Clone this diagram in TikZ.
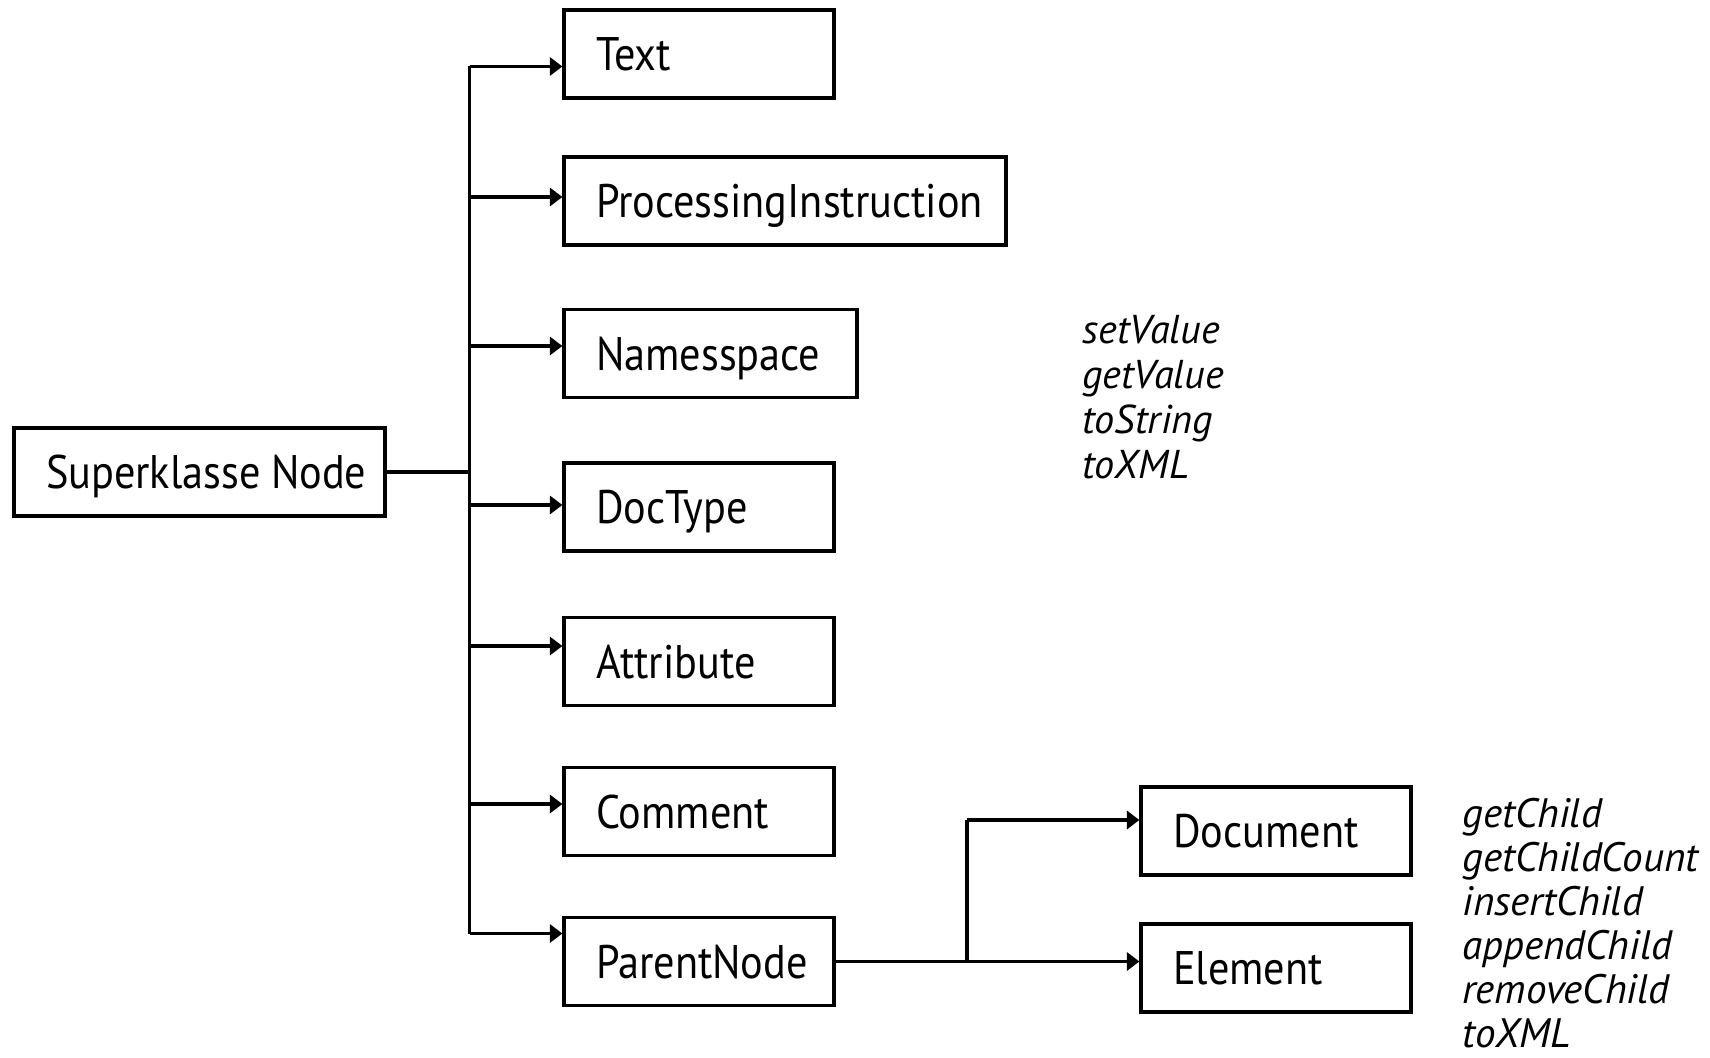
\documentclass[tikz,border=0pt]{standalone}
\usepackage{fontspec}
\setmainfont{PT Sans}[FakeStretch=0.898]
\newfontfamily\methfont{PT Sans}
\usetikzlibrary{arrows.meta}

\tikzset{
  cls/.style={draw, line width=1.8pt, minimum height=1.76cm, inner xsep=0.64cm,
    text width=#1, align=left, text height=0.86cm, text depth=0.2cm,
    font=\fontsize{26.8}{32}\selectfont},
  link/.style={line width=1.8pt},
  arr/.style={link, -{Triangle[length=0.25cm,width=0.36cm]}},
  meth/.style={align=left, anchor=base west, inner sep=0pt}
}

\begin{document}
\begin{tikzpicture}
\useasboundingbox (0,0) rectangle (34.2,-21.16);

% classes
\node[cls=6.14cm] (super) at (3.99,-9.44) {\mbox{Superklasse\hspace{0.22em}Node}};
\node[cls=4.12cm] (txt) at (13.98,-1.08) {Text};
\node[cls=7.56cm] (proc) at (15.70,-4.02) {ProcessingInstruction};
\node[cls=4.58cm] (ns) at (14.21,-7.07) {Namesspace};
\node[cls=4.12cm] (doctype) at (13.98,-10.14) {DocType};
\node[cls=4.12cm] (attr) at (13.98,-13.23) {Attribute};
\node[cls=4.12cm] (comment) at (13.98,-16.23) {Comment};
\node[cls=4.12cm] (parent) at (13.98,-19.23) {ParentNode};
\node[cls=4.12cm] (document) at (25.52,-16.62) {Document};
\node[cls=4.12cm] (element) at (25.52,-19.36) {Element};

% methods (placed at the baseline of the last line)
\node[meth, font={\methfont\fontsize{22.9}{25.6}\selectfont\itshape}] (valops) at (21.64,-9.56)
  {setValue\\getValue\\toString\\toXML};
\node[meth, font={\methfont\fontsize{23.4}{25}\selectfont\itshape}] (childops) at (29.24,-20.94)
  {getChild\\getChildCount\\insertChild\\appendChild\\removeChild\\toXML};

% where the arrows land
\coordinate (trunk) at (9.39,0);
\coordinate (branch) at (19.34,0);
\foreach \n/\dy in {txt/-0.25, proc/0.08, ns/0.15, doctype/0.04, attr/0.31, comment/0.15, parent/0.56, document/0.22}
  \coordinate (pin-\n) at ([yshift=\dy cm]\n.west);

% connectors
\draw[link, line width=2.2pt] (super.east) -- (super.east -| trunk);
\draw[link] (trunk |- pin-txt) -- (trunk |- pin-parent);
\foreach \n in {txt,proc,ns,doctype,attr,comment,parent}
  \draw[arr] (trunk |- pin-\n) -- (pin-\n);
\draw[arr] (parent.east) -- (parent.east -| element.west);
\draw[link] (branch |- parent.east) -- (branch |- pin-document);
\draw[arr] (branch |- pin-document) -- (pin-document);
\end{tikzpicture}
\end{document}
